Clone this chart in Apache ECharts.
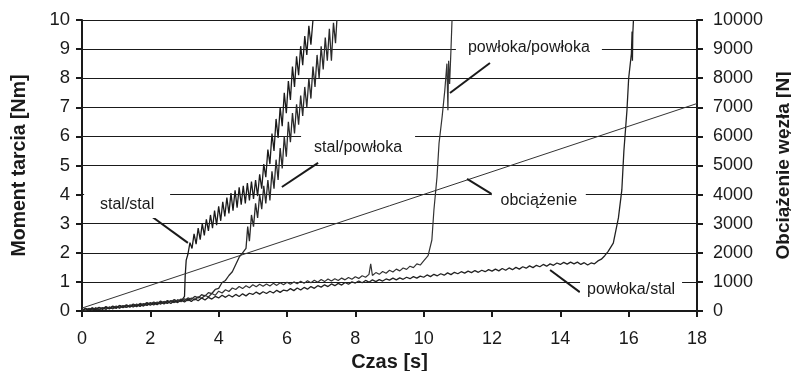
<!DOCTYPE html>
<html>
<head>
<meta charset="utf-8">
<script src="https://cdn.jsdelivr.net/npm/echarts@6/dist/echarts.min.js"></script>
<style>
  html, body { margin: 0; padding: 0; background: #fff; overflow: hidden; }
  #chart { width: 791px; height: 371px; }
</style>
</head>
<body>
<div id="chart"></div>
<script>
// Friction moment [Nm] vs time [s] for four material pairs, plus the joint load [N].
const stalStal = [
  [0.0,0.06],[0.1,0.01],[0.2,0.08],[0.3,0.03],[0.4,0.10],[0.5,0.04],[0.6,0.11],[0.7,0.06],[0.8,0.13],[0.9,0.08],
  [1.0,0.15],[1.1,0.10],[1.2,0.17],[1.3,0.12],[1.4,0.19],[1.5,0.14],[1.6,0.22],[1.7,0.16],[1.8,0.24],[1.9,0.19],
  [2.0,0.27],[2.1,0.21],[2.2,0.29],[2.3,0.24],[2.4,0.32],[2.5,0.26],[2.6,0.35],[2.7,0.29],[2.8,0.38],[2.9,0.33],
  [3.0,0.50],[3.02,1.20],[3.05,1.75],[3.10,1.95],[3.16,2.35],
  [3.22,2.15],[3.28,2.65],[3.34,2.30],[3.40,2.85],[3.46,2.45],[3.52,3.00],[3.58,2.60],[3.64,3.15],[3.70,2.75],
  [3.76,3.30],[3.82,2.85],[3.88,3.45],[3.94,2.95],[4.00,3.60],[4.06,3.10],[4.12,3.75],[4.18,3.25],[4.24,3.90],
  [4.30,3.35],[4.36,4.05],[4.42,3.45],[4.48,4.15],[4.54,3.55],[4.60,4.25],[4.66,3.65],[4.72,4.30],[4.78,3.70],
  [4.84,4.40],[4.90,3.80],[4.96,4.45],[5.02,3.85],[5.08,4.50],[5.14,3.95],[5.20,4.70],[5.26,4.20],[5.32,5.05],
  [5.38,4.60],[5.44,5.55],[5.50,5.05],[5.56,6.10],[5.62,5.50],[5.68,6.60],[5.74,5.95],[5.80,7.00],[5.86,6.35],
  [5.92,7.50],[5.98,6.80],[6.04,7.90],[6.10,7.25],[6.16,8.40],[6.22,7.70],[6.28,8.75],[6.34,8.10],[6.40,9.10],
  [6.46,8.45],[6.52,9.45],[6.58,8.80],[6.64,9.80],[6.70,9.15],[6.76,10.00]
];

const stalPowloka = [
  [0.0,0.02],[0.1,0.09],[0.2,0.04],[0.3,0.11],[0.4,0.06],[0.5,0.13],[0.6,0.07],[0.7,0.15],[0.8,0.09],[0.9,0.17],
  [1.0,0.12],[1.1,0.19],[1.2,0.14],[1.3,0.21],[1.4,0.16],[1.5,0.24],[1.6,0.18],[1.7,0.26],[1.8,0.21],[1.9,0.29],
  [2.0,0.24],[2.1,0.31],[2.2,0.26],[2.3,0.34],[2.4,0.28],[2.5,0.36],[2.6,0.31],[2.7,0.39],[2.8,0.33],[2.9,0.41],
  [3.0,0.36],[3.1,0.45],[3.2,0.40],[3.3,0.50],[3.4,0.45],[3.5,0.56],[3.6,0.51],[3.7,0.63],[3.8,0.60],[3.9,0.74],
  [4.0,0.78],[4.1,0.98],[4.2,1.05],[4.3,1.22],[4.4,1.35],[4.5,1.60],[4.6,1.85],[4.7,2.00],[4.8,2.15],
  [4.85,2.90],[4.90,2.40],[4.96,3.30],[5.02,2.90],[5.08,3.70],[5.14,3.20],[5.20,4.00],[5.26,3.50],[5.32,4.30],
  [5.38,3.70],[5.44,4.50],[5.50,3.80],[5.56,4.80],[5.62,4.20],[5.68,5.20],[5.74,4.50],[5.80,5.60],[5.86,4.90],
  [5.92,6.00],[5.98,5.30],[6.04,6.50],[6.10,5.80],[6.16,6.80],[6.22,6.10],[6.28,7.10],[6.34,6.40],[6.40,7.40],
  [6.46,6.70],[6.52,7.70],[6.58,7.00],[6.64,8.00],[6.70,7.30],[6.76,8.40],[6.82,7.70],[6.88,8.80],[6.94,8.00],
  [7.00,9.10],[7.06,8.30],[7.12,9.40],[7.18,8.60],[7.24,9.70],[7.30,8.60],[7.36,9.90],[7.42,9.20],[7.46,10.00]
];

const powlokaPowloka = [
  [0.0,0.05],[0.1,0.01],[0.2,0.09],[0.3,0.03],[0.4,0.11],[0.5,0.05],[0.6,0.12],[0.7,0.06],[0.8,0.14],[0.9,0.08],
  [1.0,0.17],[1.1,0.11],[1.2,0.19],[1.3,0.13],[1.4,0.21],[1.5,0.15],[1.6,0.24],[1.7,0.17],[1.8,0.26],[1.9,0.20],
  [2.0,0.29],[2.1,0.22],[2.2,0.31],[2.3,0.24],[2.4,0.33],[2.5,0.27],[2.6,0.36],[2.7,0.29],[2.8,0.38],[2.9,0.32],
  [3.0,0.42],[3.1,0.35],[3.2,0.45],[3.3,0.38],[3.4,0.49],[3.5,0.43],[3.6,0.54],[3.7,0.48],[3.8,0.60],[3.9,0.54],
  [4.0,0.68],[4.1,0.62],[4.2,0.73],[4.3,0.67],[4.4,0.79],[4.5,0.74],[4.6,0.84],[4.7,0.77],[4.8,0.87],[4.9,0.80],
  [5.0,0.90],[5.1,0.83],[5.2,0.92],[5.3,0.85],[5.4,0.93],[5.5,0.86],[5.6,0.95],[5.7,0.88],[5.8,0.97],[5.9,0.90],
  [6.0,0.99],[6.1,0.92],[6.2,1.00],[6.3,0.94],[6.4,1.02],[6.5,0.95],[6.6,1.04],[6.7,0.97],[6.8,1.06],[6.9,0.99],
  [7.0,1.08],[7.1,1.01],[7.2,1.10],[7.3,1.03],[7.4,1.11],[7.5,1.05],[7.6,1.13],[7.7,1.07],[7.8,1.15],[7.9,1.09],
  [8.0,1.18],[8.1,1.12],[8.2,1.21],[8.3,1.16],[8.4,1.26],[8.45,1.62],[8.5,1.22],[8.6,1.32],[8.7,1.26],[8.8,1.36],
  [8.9,1.30],[9.0,1.40],[9.1,1.34],[9.2,1.44],[9.3,1.38],[9.4,1.48],[9.5,1.43],[9.6,1.54],[9.7,1.49],[9.8,1.62],
  [9.9,1.58],[10.0,1.72],
  [10.05,1.75],[10.13,1.90],[10.24,2.44],[10.30,3.47],[10.39,4.60],[10.45,5.77],[10.54,6.67],[10.62,7.60],
  [10.68,8.50],[10.71,6.90],[10.73,8.60],[10.76,7.80],[10.80,9.00],[10.83,10.00]
];

const powlokaStal = [
  [0.0,0.00],[0.1,0.08],[0.2,0.02],[0.3,0.10],[0.4,0.04],[0.5,0.12],[0.6,0.05],[0.7,0.13],[0.8,0.07],[0.9,0.15],
  [1.0,0.09],[1.1,0.18],[1.2,0.11],[1.3,0.19],[1.4,0.13],[1.5,0.21],[1.6,0.15],[1.7,0.23],[1.8,0.17],[1.9,0.26],
  [2.0,0.20],[2.1,0.28],[2.2,0.22],[2.3,0.30],[2.4,0.24],[2.5,0.33],[2.6,0.26],[2.7,0.35],[2.8,0.29],[2.9,0.37],
  [3.0,0.31],[3.1,0.40],[3.2,0.33],[3.3,0.42],[3.4,0.35],[3.5,0.45],[3.6,0.38],[3.7,0.47],[3.8,0.41],[3.9,0.50],
  [4.0,0.45],[4.1,0.54],[4.2,0.47],[4.3,0.55],[4.4,0.48],[4.5,0.57],[4.6,0.50],[4.7,0.59],[4.8,0.52],[4.9,0.61],
  [5.0,0.57],[5.1,0.65],[5.2,0.58],[5.3,0.66],[5.4,0.60],[5.5,0.68],[5.6,0.62],[5.7,0.71],[5.8,0.64],[5.9,0.72],
  [6.0,0.69],[6.1,0.77],[6.2,0.70],[6.3,0.79],[6.4,0.72],[6.5,0.81],[6.6,0.75],[6.7,0.84],[6.8,0.78],[6.9,0.87],
  [7.0,0.82],[7.1,0.90],[7.2,0.84],[7.3,0.93],[7.4,0.87],[7.5,0.95],[7.6,0.89],[7.7,0.98],[7.8,0.92],[7.9,1.00],
  [8.0,0.96],[8.1,1.03],[8.2,0.97],[8.3,1.05],[8.4,0.99],[8.5,1.07],[8.6,1.01],[8.7,1.08],[8.8,1.03],[8.9,1.10],
  [9.0,1.06],[9.1,1.13],[9.2,1.07],[9.3,1.14],[9.4,1.09],[9.5,1.16],[9.6,1.11],[9.7,1.18],[9.8,1.13],[9.9,1.20],
  [10.0,1.16],[10.1,1.24],[10.2,1.18],[10.3,1.26],[10.4,1.21],[10.5,1.28],[10.6,1.23],[10.7,1.31],[10.8,1.25],[10.9,1.33],
  [11.0,1.28],[11.1,1.35],[11.2,1.30],[11.3,1.37],[11.4,1.32],[11.5,1.39],[11.6,1.33],[11.7,1.40],[11.8,1.35],[11.9,1.42],
  [12.0,1.37],[12.1,1.44],[12.2,1.38],[12.3,1.46],[12.4,1.40],[12.5,1.48],[12.6,1.42],[12.7,1.50],[12.8,1.44],[12.9,1.52],
  [13.0,1.47],[13.1,1.55],[13.2,1.49],[13.3,1.57],[13.4,1.52],[13.5,1.60],[13.6,1.54],[13.7,1.62],[13.8,1.57],[13.9,1.65],
  [14.0,1.60],[14.1,1.67],[14.2,1.61],[14.3,1.68],[14.4,1.62],[14.5,1.68],[14.6,1.60],[14.7,1.66],[14.8,1.58],[14.9,1.65],
  [15.0,1.62],[15.1,1.72],[15.2,1.78],[15.3,1.90],
  [15.40,2.05],[15.55,2.33],[15.70,3.20],[15.80,4.16],[15.86,5.50],[15.95,6.90],[16.00,8.00],[16.08,8.85],
  [16.10,9.60],[16.11,8.60],[16.12,9.50],[16.14,10.00]
];

// Joint load [N], right axis
const obciazenie = [[0, 100], [18, 7130]];

const xTicks = { min: 0, max: 18, step: 2 };
const momentTicks = { min: 0, max: 10, step: 1 };
const loadTicks = { min: 0, max: 10000, step: 1000 };

// Annotation labels (text, centre in data units, white backing size in px)
const labels = [
  { text: 'stal/stal',        at: [1.32, 3.64],  size: [86, 26] },
  { text: 'stal/powłoka',     at: [8.08, 5.60],  size: [114, 28] },
  { text: 'powłoka/powłoka',  at: [13.08, 9.04], size: [146, 22] },
  { text: 'obciążenie',       at: [13.37, 3.81], size: [94, 24] },
  { text: 'powłoka/stal',     at: [16.07, 0.72], size: [102, 26] }
];
// Leader arrows: from label towards its curve, data units
const arrows = [
  [[1.90, 3.37], [3.10, 2.34]],
  [[6.91, 5.09], [5.85, 4.26]],
  [[11.94, 8.52], [10.77, 7.49]],
  [[12.09, 3.95], [11.27, 4.54]],
  [[14.57, 0.65], [13.70, 1.41]]
];

const FONT = '"Liberation Sans", Arial, sans-serif';
const INK = '#1a1a1a';

const chart = echarts.init(document.getElementById('chart'), null, { renderer: 'canvas' });

function curve(name, data, yAxisIndex, color, width) {
  return {
    name, type: 'line', data, yAxisIndex,
    showSymbol: false, symbol: 'none', smooth: false,
    lineStyle: { color, width },
    animation: false, silent: true, z: 3
  };
}

const annotationSeries = {
  name: 'annotations', type: 'line', data: [], yAxisIndex: 0, xAxisIndex: 0,
  animation: false, silent: true, z: 4,
  markPoint: {
    animation: false, silent: true,
    symbol: 'rect',
    itemStyle: { color: '#ffffff' },
    label: { show: true, position: 'inside', color: INK, fontFamily: FONT, fontSize: 16 },
    data: labels.map(l => ({
      coord: l.at, symbolSize: l.size, value: l.text,
      label: { formatter: l.text }
    }))
  },
  markLine: {
    animation: false, silent: true,
    symbol: ['none', 'arrow'], symbolSize: [0, 10],
    lineStyle: { color: INK, width: 2, type: 'solid' },
    label: { show: false },
    data: arrows.map(a => [{ coord: a[0] }, { coord: a[1] }])
  }
};

chart.setOption({
  animation: false,
  backgroundColor: '#ffffff',
  grid: { left: 82, right: 94, top: 20, bottom: 60, containLabel: false, outerBoundsMode: 'none' },
  xAxis: {
    type: 'value', min: xTicks.min, max: xTicks.max, interval: xTicks.step,
    name: 'Czas [s]', nameLocation: 'middle', nameGap: 36,
    nameTextStyle: { fontFamily: FONT, fontSize: 20, fontWeight: 'bold', color: INK },
    axisLine: { show: true, onZero: false, lineStyle: { color: INK, width: 2 } },
    axisTick: { show: true, inside: false, length: 6, lineStyle: { color: INK, width: 2 } },
    axisLabel: { fontFamily: FONT, fontSize: 18, color: INK, margin: 19 },
    splitLine: { show: false }
  },
  yAxis: [
    {
      type: 'value', min: momentTicks.min, max: momentTicks.max, interval: momentTicks.step,
      name: 'Moment tarcia [Nm]', nameLocation: 'middle', nameGap: 52,
      nameTextStyle: { fontFamily: FONT, fontSize: 19.5, fontWeight: 'bold', color: INK },
      axisLine: { show: true, onZero: false, lineStyle: { color: INK, width: 2 } },
      axisTick: { show: true, inside: false, length: 6, lineStyle: { color: INK, width: 2 } },
      axisLabel: { fontFamily: FONT, fontSize: 18.5, color: INK, margin: 12 },
      splitLine: { show: true, lineStyle: { color: INK, width: 1.2 } }
    },
    {
      type: 'value', position: 'right', min: loadTicks.min, max: loadTicks.max, interval: loadTicks.step,
      name: 'Obciążenie węzła [N]', nameLocation: 'middle', nameGap: 73,
      nameTextStyle: { fontFamily: FONT, fontSize: 19, fontWeight: 'bold', color: INK },
      axisLine: { show: true, onZero: false, lineStyle: { color: INK, width: 2 } },
      axisTick: { show: true, inside: false, length: 6, lineStyle: { color: INK, width: 2 } },
      axisLabel: { fontFamily: FONT, fontSize: 18, color: INK, margin: 16, formatter: v => String(v) },
      splitLine: { show: false }
    }
  ],
  series: [
    curve('stal/stal', stalStal, 0, '#1a1a1a', 1.3),
    curve('stal/powłoka', stalPowloka, 0, '#2a2a2a', 1.3),
    curve('powłoka/powłoka', powlokaPowloka, 0, '#333', 1.2),
    curve('powłoka/stal', powlokaStal, 0, '#222', 1.3),
    curve('obciążenie', obciazenie, 1, '#333', 1),
    annotationSeries
  ]
});
</script>
</body>
</html>
